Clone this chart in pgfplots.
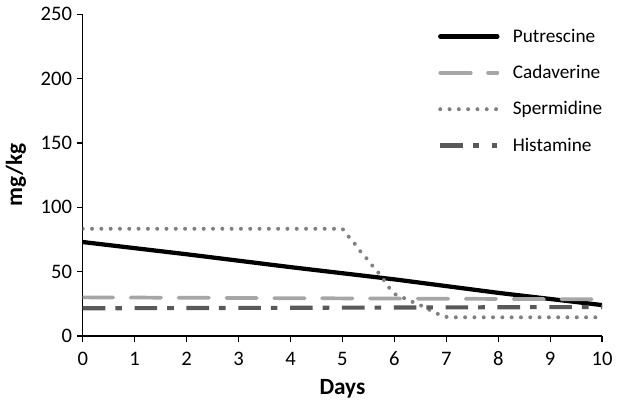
\documentclass[border=0pt]{standalone}
\usepackage{pgfplots}
\pgfplotsset{compat=1.18}
\usepackage{fontspec}
\setmainfont{Carlito}

\definecolor{cadgray}{HTML}{A6A6A6}
\definecolor{spegray}{HTML}{808080}
\definecolor{hisgray}{HTML}{595959}

\begin{document}
\begin{tikzpicture}
\begin{axis}[
    scale only axis,
    width=390.75pt, height=242pt,
    xmin=0, xmax=10, ymin=0, ymax=250,
    xtick={0,1,...,10},
    ytick={0,50,...,250},
    axis lines=left,
    axis line style={line width=1pt, -},
    tick style={line width=1pt, black},
    tick align=outside,
    major tick length=4.5pt,
    /pgf/number format/assume math mode=true,
    ticklabel style={font=\fontsize{15.5}{18}\selectfont},
    xticklabel style={yshift=-4pt, text height=10pt, text depth=0pt},
    xlabel={\textbf{Days}},
    ylabel={\textbf{mg/kg}},
    label style={font=\fontsize{17.5}{20}\selectfont},
    xlabel style={at={(axis description cs:0.5,-0.165)}, anchor=center},
    ylabel style={at={(axis description cs:-0.1286,0.5)}, anchor=center},
    legend style={at={(0.676,0.972)}, anchor=north west, draw=none, fill=none,
        font=\fontsize{14.5}{17}\selectfont, row sep=11.8pt},
    legend cell align=left,
    legend image code/.code={\draw[#1] (0pt,0pt) -- (43pt,0pt); \path (51pt,0pt);},
]
\addplot[black, line width=3.2pt, line cap=round] coordinates {
    (0,73) (2,63.5) (4,53.5) (6,44) (8,33.5) (10,24)
};
\addlegendentry{Putrescine}
\addplot[cadgray, line width=2.8pt, line cap=round, dash pattern=on 23pt off 13pt] coordinates {
    (0,30) (5,29.2) (10,28.5)
};
\addlegendentry{Cadaverine}
\addplot[spegray, line width=3pt, line cap=round, dash pattern=on 0pt off 7pt] coordinates {
    (0,83.3) (5,83.3) (5.12,77.2) (5.24,71.5) (5.35,65.5) (5.48,59.6) (5.59,53.9)
    (5.7,48.8) (5.8,43.3) (5.91,36.9) (6.03,32) (6.2,29.2) (6.37,26.1)
    (6.55,23) (6.71,19.6) (6.87,16.5) (7.03,14.5) (10,14.5)
};
\addlegendentry{Spermidine}
\addplot[hisgray, line width=3.1pt, dash pattern=on 17pt off 7.5pt on 5pt off 9.5pt] coordinates {
    (0,21.5) (5,22) (10,22.5)
};
\addlegendentry{Histamine}
\end{axis}
\path (-62.25pt,-49.5pt) rectangle (400.5pt,252.75pt);
\end{tikzpicture}
\end{document}
